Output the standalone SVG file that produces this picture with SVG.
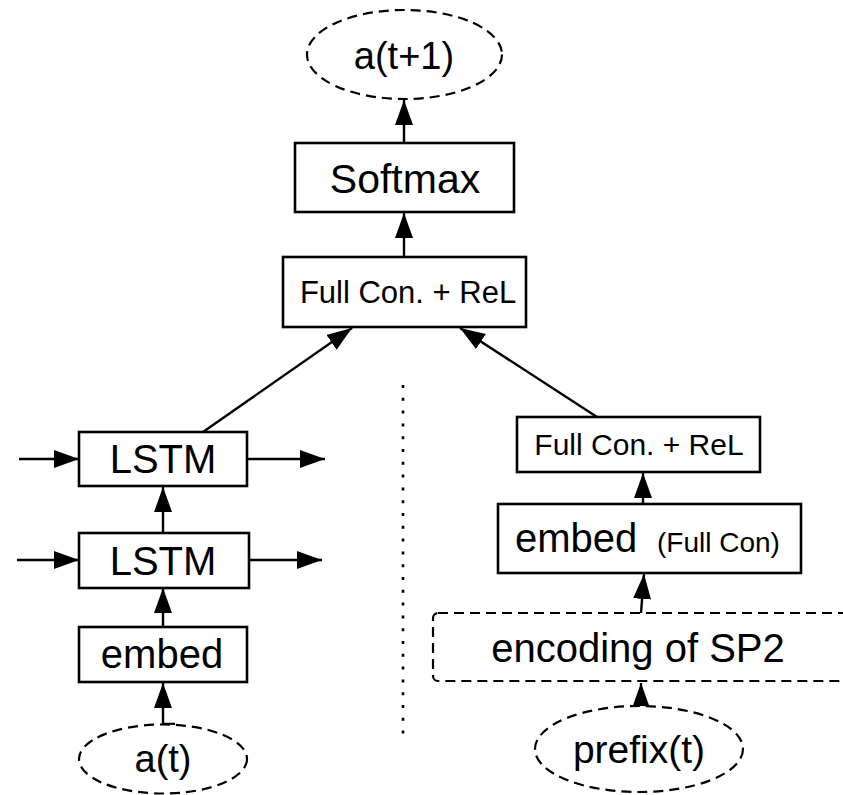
<svg xmlns="http://www.w3.org/2000/svg" width="843" height="795" viewBox="0 0 843 795">
<style>
.box{fill:#fff;stroke:#000;stroke-width:2.6}
.dash{fill:#fff;stroke:#000;stroke-width:2.2;stroke-dasharray:10 6}
.t{font-family:"Liberation Sans",Arial,Helvetica,sans-serif;fill:#000;text-anchor:middle}
.c{fill:none;stroke:#000;stroke-width:2.4}
</style>
<defs>
<marker id="ah" markerUnits="userSpaceOnUse" markerWidth="26" markerHeight="20" refX="25" refY="9" orient="auto">
<path d="M0,0 L25,9 L0,18 z" fill="#000"/>
</marker>
</defs>
<rect width="843" height="795" fill="#fff"/>

<g id="connectors">
<line class="c" x1="404" y1="143" x2="404" y2="100" marker-end="url(#ah)"/>
<line class="c" x1="404" y1="257" x2="404" y2="213" marker-end="url(#ah)"/>
<line class="c" x1="203" y1="432" x2="352" y2="328" marker-end="url(#ah)"/>
<line class="c" x1="597" y1="417" x2="460" y2="328" marker-end="url(#ah)"/>
<line class="c" x1="19" y1="459" x2="79" y2="459" marker-end="url(#ah)"/>
<line class="c" x1="247" y1="459" x2="325" y2="459" marker-end="url(#ah)"/>
<line class="c" x1="17" y1="560" x2="79" y2="560" marker-end="url(#ah)"/>
<line class="c" x1="249" y1="560" x2="322" y2="560" marker-end="url(#ah)"/>
<line class="c" x1="163" y1="533" x2="163" y2="487" marker-end="url(#ah)"/>
<line class="c" x1="163" y1="627" x2="163" y2="588" marker-end="url(#ah)"/>
<path class="c" d="M175,724 L163,724 L163,683" marker-end="url(#ah)"/>
<line class="c" x1="643" y1="504" x2="643" y2="473" marker-end="url(#ah)"/>
<line class="c" x1="641" y1="613" x2="644" y2="574" marker-end="url(#ah)"/>
<line class="c" x1="641" y1="707" x2="641" y2="683" marker-end="url(#ah)"/>
<line x1="403" y1="385" x2="403" y2="734" stroke="#000" stroke-width="2.6" stroke-dasharray="3 9.8"/>
</g>

<g id="a_t1">
<ellipse class="dash" cx="404.5" cy="54.5" rx="97.5" ry="44.5"/>
<text class="t" x="404" y="69" font-size="38">a(t+1)</text>
</g>
<g id="softmax">
<rect class="box" x="295" y="143" width="219" height="69"/>
<text class="t" x="405" y="193" font-size="41">Softmax</text>
</g>
<g id="fc_top">
<rect class="box" x="283" y="257" width="243" height="70"/>
<text class="t" x="408" y="303" font-size="31">Full Con. + ReL</text>
</g>
<g id="lstm_top">
<rect class="box" x="79" y="432" width="168" height="54"/>
<text class="t" x="163" y="473" font-size="40">LSTM</text>
</g>
<g id="lstm_bottom">
<rect class="box" x="79" y="533" width="170" height="55"/>
<text class="t" x="163" y="575" font-size="40">LSTM</text>
</g>
<g id="embed">
<rect class="box" x="79" y="627" width="168" height="55"/>
<text class="t" x="162" y="668" font-size="40">embed</text>
</g>
<g id="a_t">
<ellipse class="dash" cx="163" cy="759" rx="84" ry="34.5"/>
<text class="t" x="163" y="772" font-size="38">a(t)</text>
</g>
<g id="fc_right">
<rect class="box" x="517" y="417" width="243" height="55"/>
<text class="t" x="639" y="455" font-size="30">Full Con. + ReL</text>
</g>
<g id="embed_fc">
<rect class="box" x="498" y="504" width="303" height="69"/>
<text class="t" style="text-anchor:start" y="552"><tspan x="515" font-size="40">embed</tspan><tspan x="657" font-size="28">(Full Con)</tspan></text>
</g>
<g id="encoding">
<rect class="dash" x="433" y="613" width="430" height="68" rx="5"/>
<text class="t" x="638" y="662" font-size="40">encoding of SP2</text>
</g>
<g id="prefix">
<ellipse class="dash" cx="639" cy="749" rx="104" ry="43"/>
<text class="t" x="639" y="763" font-size="39">prefix(t)</text>
</g>
</svg>
